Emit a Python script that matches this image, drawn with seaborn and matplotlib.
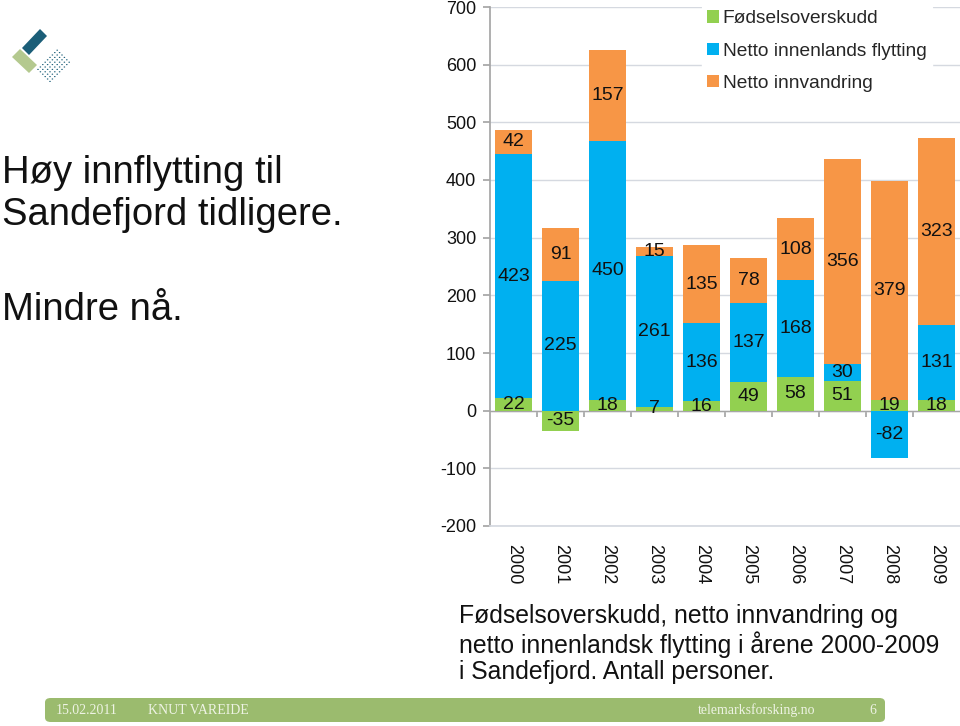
import numpy as np
import pandas as pd
import seaborn as sns
import matplotlib.pyplot as plt
from matplotlib.patches import FancyBboxPatch, Polygon, Circle

# data
years = ['2000', '2001', '2002', '2003', '2004', '2005', '2006', '2007', '2008', '2009']
fodsel = [22, -35, 18, 7, 16, 49, 58, 51, 19, 18]
innenlands = [423, 225, 450, 261, 136, 137, 168, 30, -82, 131]
innvandring = [42, 91, 157, 15, 135, 78, 108, 356, 379, 323]
serier = ['Fødselsoverskudd', 'Netto innenlands flytting', 'Netto innvandring']
farger = ['#92d050', '#00b0f0', '#f79646']

sns.set_theme(style='white')
plt.rcParams['font.family'] = ['Liberation Sans', 'DejaVu Sans']
plt.rcParams['axes.unicode_minus'] = False

fig = plt.figure(figsize=(9.6, 7.26), dpi=100)
ax = fig.add_axes([490/960, 1-526/726, 470/960, 519/726])

# stack positives up and negatives down, like Excel
pos = np.zeros(len(years))
neg = np.zeros(len(years))
for navn, verdier, farge in zip(serier, [fodsel, innenlands, innvandring], farger):
    v = np.array(verdier, dtype=float)
    bunn = np.where(v >= 0, pos, neg)
    df = pd.DataFrame({'aar': years, 'verdi': v})
    sns.barplot(data=df, x='aar', y='verdi', color=farge, saturation=1, width=0.77,
                bottom=bunn, label=navn, ax=ax, zorder=2, linewidth=0)
    pos = pos + np.where(v >= 0, v, 0)
    neg = neg + np.where(v < 0, v, 0)

for c in ax.containers:
    ax.bar_label(c, label_type='center', fontsize=14, color='#111111')

ax.set_xlim(-0.5, 9.5)
ax.set_ylim(-200, 700)
ax.set_yticks(range(-200, 701, 100))
ax.yaxis.grid(True, color='#d5d9e0', linewidth=1, zorder=0)
ax.set_axisbelow(True)
ax.set_xlabel('')
ax.set_ylabel('')
for s in ['top', 'right']:
    ax.spines[s].set_visible(False)
ax.spines['left'].set_color('#a6a6a6')
ax.spines['bottom'].set_color('#d5d9e0')
ax.tick_params(axis='y', left=True, length=5, color='#a6a6a6', labelsize=13, pad=5, labelcolor='#111111')
ax.tick_params(axis='x', bottom=False, labelsize=13, pad=7, labelcolor='#111111')
plt.setp(ax.get_xticklabels(), rotation=270, va='top', ha='center')

# category axis crossing at zero
ax.axhline(0, color='#a6a6a6', linewidth=1, zorder=1)
sek = ax.secondary_xaxis(2/9)
sek.set_xticks(np.arange(0.5, 9, 1))
sek.tick_params(axis='x', direction='out', length=4, color='#a6a6a6', labelbottom=False)
sek.spines['bottom'].set_visible(False)

leg = ax.legend(loc='upper left', bbox_to_anchor=(692/960, 1.0 + 5/726), bbox_transform=fig.transFigure,
                frameon=True, fontsize=13.8, handlelength=0.6, handleheight=0.6, handletextpad=0.2,
                labelspacing=0.8, borderpad=0.3)
leg.get_frame().set_edgecolor('white')
leg.get_frame().set_facecolor('white')
leg.get_frame().set_alpha(1)

# left text
fig.text(2/960, 1-194/726, 'Høy innflytting til\nSandefjord tidligere.', fontsize=27.5,
         va='center', ha='left', linespacing=1.2, color='#111111')
fig.text(2/960, 1-310/726, 'Mindre nå.', fontsize=27.5, va='center', ha='left', color='#111111')

# caption
fig.text(459/960, 1-644/726,
         'Fødselsoverskudd, netto innvandring og\nnetto innenlandsk flytting i årene 2000-2009\ni Sandefjord. Antall personer.',
         fontsize=17.8, va='center', ha='left', linespacing=1.12, color='#111111')

# footer bar
fot = FancyBboxPatch((45/960, 1-722/726), 840/960, 24/726, boxstyle='round,pad=0,rounding_size=0.006',
                     transform=fig.transFigure, facecolor='#9bbb6e', edgecolor='none')
fig.patches.append(fot)
ff = dict(family=['Liberation Serif', 'DejaVu Serif'], fontsize=10, color='#eef3e4', va='center')
fig.text(56/960, 1-710/726, '15.02.2011', **ff)
fig.text(148/960, 1-710/726, 'KNUT VAREIDE', **ff)
fig.text(698/960, 1-710/726, 'telemarksforsking.no', **ff)
fig.text(869/960, 1-710/726, '6', **ff)

# logo
def px(pts):
    return [(x/960, 1-y/726) for x, y in pts]

fig.patches.append(Polygon(px([(40, 29), (47, 36), (29, 55), (22, 48)]), closed=True,
                           transform=fig.transFigure, facecolor='#1b5e78', edgecolor='none'))
fig.patches.append(Polygon(px([(12, 57), (20, 49), (37, 65), (29, 73)]), closed=True,
                           transform=fig.transFigure, facecolor='#b4c98f', edgecolor='none'))
for i in range(9):
    for j in range(9):
        x = 50 + (i - j) * 2.4
        y = 43 + (i + j) * 2.4
        if i < 3 and j > 0:
            continue
        if j < 2 and i < 3:
            continue
        if x < 31 or y > 84:
            continue
        fig.patches.append(Circle((x/960, 1-y/726), 0.8/960, transform=fig.transFigure,
                                  facecolor='#1b5e78', edgecolor='none'))

fig.savefig('out.png', dpi=100, facecolor='white')
